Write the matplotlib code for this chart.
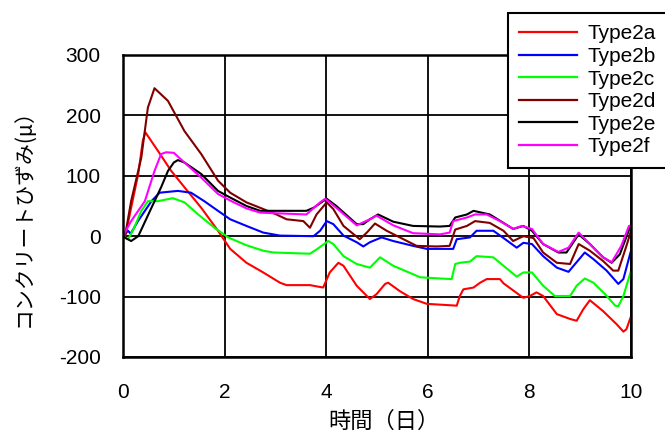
import matplotlib
matplotlib.use("Agg")
import matplotlib.pyplot as plt

# ---------------- data ----------------
labels = ["Type2a", "Type2b", "Type2c", "Type2d", "Type2e", "Type2f"]

t_2a = [0, 0.05, 0.16, 0.30, 0.39, 0.44, 0.69, 0.95, 1.21, 1.54, 1.87, 2.11, 2.43, 2.76, 3.09,
        3.22, 3.68, 3.94, 4.07, 4.24, 4.34, 4.60, 4.86, 4.99, 5.16, 5.22, 5.45, 5.71, 5.98, 6.57,
        6.63, 6.70, 6.90, 7.03, 7.16, 7.42, 7.49, 7.88, 8.01, 8.14, 8.27, 8.54, 8.80, 8.93, 9.06,
        9.19, 9.45, 9.72, 9.85, 9.91, 9.99]
v_2a = [0, 2, 47, 103, 158, 172, 141, 108, 81, 47, 9, -21, -44, -60, -77,
        -81, -81, -85, -60, -44, -49, -82, -104, -96, -79, -77, -91, -104, -112, -115,
        -99, -88, -85, -77, -71, -71, -78, -102, -99, -93, -99, -129, -137, -140, -121,
        -106, -124, -146, -158, -154, -135]

t_2b = [0, 0.10, 0.15, 0.295, 0.56, 0.72, 1.08, 1.34, 1.60, 1.87, 2.11, 2.43, 2.76, 3.09, 3.75,
        3.88, 4.01, 4.14, 4.34, 4.60, 4.73, 4.86, 5.09, 5.32, 5.71, 5.98, 6.50, 6.57, 6.83, 6.96,
        7.29, 7.49, 7.75, 7.88, 8.05, 8.27, 8.54, 8.77, 8.90, 9.09, 9.26, 9.52, 9.75, 9.85, 9.99]
v_2b = [0, 9, 4, 25, 58, 72, 75, 72, 58, 42, 28, 17, 6, 1, 0,
        9, 25, 20, 1, -10, -17, -10, -2, -8, -16, -21, -21, -5, -2, 9,
        9, -3, -19, -11, -13, -33, -52, -59, -46, -27, -38, -57, -79, -71, -27]

t_2c = [0, 0.10, 0.20, 0.36, 0.49, 0.69, 0.98, 1.21, 1.48, 1.80, 2.07, 2.43, 2.76, 2.96, 3.68,
        3.81, 4.04, 4.14, 4.34, 4.60, 4.86, 5.06, 5.32, 5.85, 6.24, 6.47, 6.54, 6.63, 6.83, 6.96,
        7.29, 7.49, 7.75, 7.88, 8.05, 8.27, 8.50, 8.80, 8.93, 9.09, 9.26, 9.49, 9.69, 9.75, 9.85,
        9.99]
v_2c = [0, -5, 10, 42, 58, 58, 63, 56, 36, 14, -2, -15, -24, -27, -29,
        -22, -8, -13, -33, -46, -52, -35, -49, -68, -70, -71, -46, -44, -42, -33,
        -35, -49, -67, -60, -60, -82, -99, -99, -82, -70, -77, -96, -115, -116, -99,
        -60]

t_2d = [0, 0.05, 0.16, 0.36, 0.49, 0.62, 0.885, 1.21, 1.54, 1.87, 2.11, 2.43, 2.76, 3.02, 3.22,
        3.55, 3.68, 3.81, 4.01, 4.14, 4.34, 4.66, 4.80, 4.96, 5.19, 5.52, 5.78, 6.17, 6.43, 6.54,
        6.77, 6.93, 7.22, 7.49, 7.68, 7.88, 8.08, 8.27, 8.54, 8.80, 8.97, 9.19, 9.45, 9.65, 9.75,
        9.91, 9.99]
v_2d = [0, 5, 58, 130, 213, 245, 224, 174, 136, 92, 72, 56, 45, 36, 28,
        25, 14, 36, 56, 45, 17, -5, 6, 21, 9, -5, -16, -17, -16, 11,
        17, 25, 22, 9, -8, 0, -3, -27, -44, -46, -13, -24, -41, -57, -57,
        -16, 6]

t_2e = [0, 0.05, 0.16, 0.30, 0.56, 0.75, 0.885, 1.00, 1.08, 1.21, 1.54, 1.87, 2.11, 2.43, 2.70,
        3.61, 3.75, 4.01, 4.20, 4.60, 4.73, 4.86, 5.02, 5.32, 5.71, 6.24, 6.43, 6.54, 6.77, 6.90,
        7.22, 7.49, 7.68, 7.88, 8.05, 8.27, 8.57, 8.73, 8.97, 9.19, 9.45, 9.62, 9.78, 9.99]
v_2e = [0, -3, -8, 0, 47, 81, 108, 122, 126, 122, 103, 75, 64, 50, 42,
        42, 47, 62, 50, 20, 20, 28, 36, 24, 17, 16, 17, 31, 36, 42,
        36, 22, 12, 17, 9, -13, -27, -27, 3, -13, -35, -44, -30, 17]

t_2f = [0, 0.05, 0.16, 0.43, 0.62, 0.75, 0.85, 1.00, 1.21, 1.54, 1.87, 2.11, 2.43, 2.70, 3.61,
        3.88, 3.98, 4.20, 4.60, 4.86, 4.99, 5.32, 5.71, 6.24, 6.43, 6.50, 6.77, 6.93, 7.16, 7.42,
        7.68, 7.85, 8.05, 8.27, 8.57, 8.77, 8.97, 9.19, 9.45, 9.62, 9.81, 9.96, 10.0]
v_2f = [0, 8, 25, 58, 108, 136, 139, 138, 122, 97, 70, 59, 46, 39, 36,
        56, 62, 47, 18, 28, 34, 18, 5, 3, 6, 25, 31, 36, 36, 25,
        12, 17, 12, -13, -26, -19, 6, -13, -35, -43, -16, 17, 17]

x_ticks = [0, 2, 4, 6, 8, 10]
y_ticks = [-200, -100, 0, 100, 200, 300]
x_label = "時間（日）"
y_label = "コンクリートひずみ(μ）"

# ---------------- styles ----------------
colors = ["#ff0000", "#0000ff", "#00ff00", "#800000", "#000000", "#ff00ff"]
series_t = [t_2a, t_2b, t_2c, t_2d, t_2e, t_2f]
series_v = [v_2a, v_2b, v_2c, v_2d, v_2e, v_2f]

plt.rcParams["font.family"] = ["Liberation Sans", "Noto Sans CJK JP", "DejaVu Sans"]
plt.rcParams["axes.unicode_minus"] = False

W, H = 665, 432
fig = plt.figure(figsize=(W / 100, H / 100), dpi=100)
ax = fig.add_axes([123 / W, 1 - 357 / H, (631 - 123) / W, (357 - 55) / H])

for t, v, c, lab in zip(series_t, series_v, colors, labels):
    ax.plot(t, v, color=c, lw=1.5, label=lab)

ax.set_xlim(0, 10)
ax.set_ylim(-200, 300)
ax.set_xticks(x_ticks)
ax.set_yticks(y_ticks)
ax.grid(True, color="black", lw=1.3)
ax.set_axisbelow(True)
for s in ax.spines.values():
    s.set_linewidth(1.8)
    s.set_color("black")

ax.tick_params(axis="both", length=0, labelsize=15)
ax.tick_params(axis="x", pad=19)
ax.tick_params(axis="y", pad=16)

ax.set_xlabel(x_label, fontsize=16, family=["Noto Sans CJK JP"])
ax.xaxis.set_label_coords(0.514, -0.175)
ax.set_ylabel(y_label, fontsize=15, family=["Noto Sans CJK JP"])
ax.yaxis.set_label_coords(-0.172, 0.477)

leg = ax.legend(loc="upper left", bbox_to_anchor=(508 / W, 1 - 13 / H),
                bbox_transform=fig.transFigure, borderaxespad=0,
                fontsize=15, handlelength=2.74, handletextpad=0.53,
                labelspacing=0.17, borderpad=0.55, fancybox=False,
                framealpha=1, edgecolor="black")
leg.get_frame().set_linewidth(1.5)
for line in leg.get_lines():
    line.set_linewidth(1.6)

fig.savefig("out.png", dpi=100)
